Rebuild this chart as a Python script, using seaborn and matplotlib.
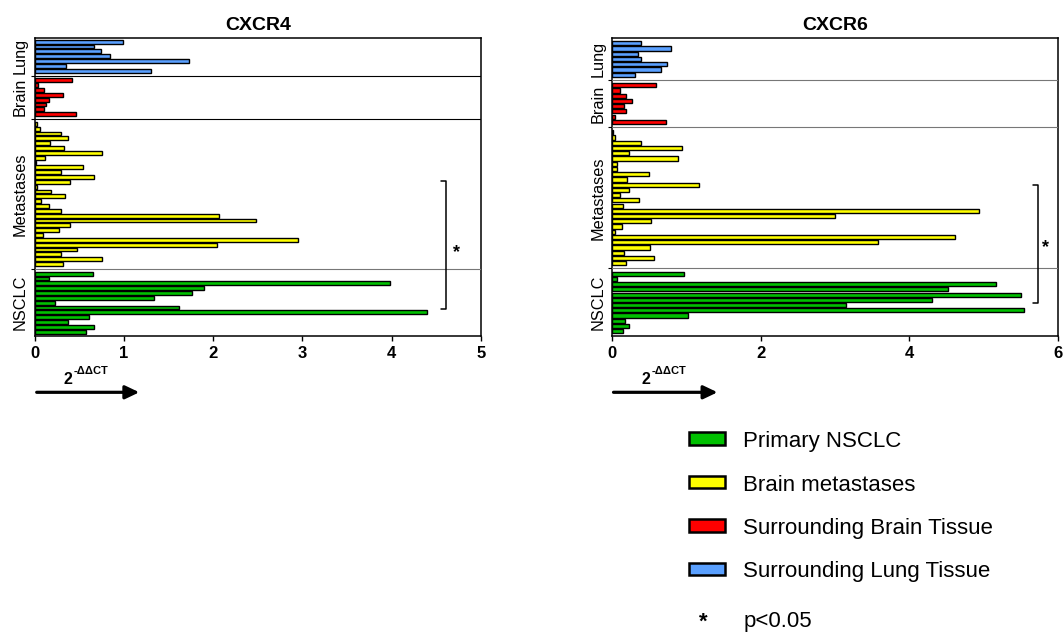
import numpy as np
import pandas as pd
import matplotlib
matplotlib.use("Agg")
import matplotlib.pyplot as plt
import seaborn as sns
from matplotlib.patches import Rectangle, FancyArrowPatch

# ---------------- data ----------------
groups = ["Surrounding Lung Tissue", "Surrounding Brain Tissue", "Brain metastases", "Primary NSCLC"]
section_labels = ["Lung", "Brain", "Metastases", "NSCLC"]
legend_order = ["Primary NSCLC", "Brain metastases", "Surrounding Brain Tissue", "Surrounding Lung Tissue"]
palette = {"Primary NSCLC": "#00c000", "Brain metastases": "#ffff00",
           "Surrounding Brain Tissue": "#ff0000", "Surrounding Lung Tissue": "#5aa0ff"}

cxcr4_lung = [0.99, 0.66, 0.74, 0.84, 1.73, 0.35, 1.30]
cxcr4_brain = [0.42, 0.04, 0.10, 0.32, 0.16, 0.13, 0.10, 0.46]
cxcr4_met = [0.03, 0.06, 0.29, 0.37, 0.17, 0.33, 0.75, 0.11, 0.02, 0.54,
             0.29, 0.66, 0.40, 0.03, 0.18, 0.34, 0.07, 0.16, 0.29, 2.07,
             2.48, 0.40, 0.27, 0.09, 2.95, 2.04, 0.47, 0.30, 0.75, 0.32]
cxcr4_nsclc = [0.65, 0.16, 3.98, 1.90, 1.76, 1.34, 0.23, 1.62, 4.40, 0.61, 0.37, 0.66, 0.57]

cxcr6_lung = [0.39, 0.79, 0.34, 0.39, 0.73, 0.65, 0.31]
cxcr6_brain = [0.59, 0.10, 0.19, 0.26, 0.16, 0.19, 0.04, 0.72]
cxcr6_met = [0.01, 0.04, 0.39, 0.94, 0.23, 0.88, 0.07, 0.07, 0.49, 0.20,
             1.17, 0.22, 0.10, 0.36, 0.15, 4.94, 3.00, 0.52, 0.13, 0.04,
             4.62, 3.58, 0.51, 0.16, 0.56, 0.18]
cxcr6_nsclc = [0.97, 0.07, 5.17, 4.52, 5.50, 4.30, 3.15, 5.54, 1.02, 0.17, 0.23, 0.14]

cxcr4_ticks = [0, 1, 2, 3, 4, 5]
cxcr6_ticks = [0, 2, 4, 6]

# ---------------- style ----------------
sns.set_theme(style="ticks")
plt.rcParams["font.family"] = ["Liberation Sans", "DejaVu Sans"]
plt.rcParams["axes.linewidth"] = 1.1
for key in ["text.color", "axes.labelcolor", "xtick.color", "ytick.color", "axes.edgecolor"]:
    plt.rcParams[key] = "black"

W, H = 1063, 632
fig = plt.figure(figsize=(W / 100, H / 100), dpi=100)


def fx(px):
    return px / W


def fy(py):
    return 1 - py / H


def build(panel, series):
    rows, order, gaps, centers = [], [], [], []
    pos = 0
    for gi, (grp, vals) in enumerate(zip(groups, series)):
        if gi > 0:
            order.append(f"{panel}_gap{gi}")
            gaps.append(pos)
            pos += 1
        start = pos
        for k, v in enumerate(vals):
            sid = f"{panel}_{gi}_{k}"
            order.append(sid)
            rows.append(dict(sample=sid, value=v, group=grp))
            pos += 1
        centers.append((start + pos - 1) / 2)
    return pd.DataFrame(rows), order, gaps, centers


panels = [
    dict(name="CXCR4", series=[cxcr4_lung, cxcr4_brain, cxcr4_met, cxcr4_nsclc],
         left=34.7, right=481.0, xmax=5, ticks=cxcr4_ticks, margins=(0.83, 0.89),
         line_colors=["black", "black", "#777777"],
         bracket=dict(x0=4.555, x1=4.608, ytop_px=181, ybot_px=309.3, xs=4.72, ys_px=256.5),
         first_px=41.7, step_px=4.83, two_px=63, arrow=(36.7, 139.3)),
    dict(name="CXCR6", series=[cxcr6_lung, cxcr6_brain, cxcr6_met, cxcr6_nsclc],
         left=612.3, right=1058.0, xmax=6, ticks=cxcr6_ticks, margins=(1.07, 0.9),
         line_colors=["#777777", "#777777", "#777777"],
         bracket=dict(x0=5.666, x1=5.733, ytop_px=185, ybot_px=302.7, xs=5.83, ys_px=252.5),
         first_px=43.3, step_px=5.236, two_px=641, arrow=(613.5, 717.5)),
]

top_px, bot_px = 37.7, 336.0

for p in panels:
    ax = fig.add_axes([fx(p["left"]), fy(bot_px), (p["right"] - p["left"]) / W, (bot_px - top_px) / H])
    df, order, gaps, centers = build(p["name"], p["series"])
    sns.barplot(data=df, x="value", y="sample", hue="group", order=order, hue_order=groups,
                palette=palette, saturation=1, dodge=False, width=0.8, edgecolor="black",
                linewidth=1.0, errorbar=None, legend=False, orient="h", ax=ax)
    n = len(order)
    mt, mb = p["margins"]
    ax.set_ylim(n - 1 + mb, -mt)
    ax.set_xlim(0, p["xmax"])
    ax.set_xlabel("")
    ax.set_ylabel("")

    # section separators
    for g, c in zip(gaps, p["line_colors"]):
        ax.axhline(g, color=c, lw=0.8, zorder=3)

    ax.set_yticks(centers)
    ax.set_yticklabels(section_labels, rotation=90, va="center", fontsize=11.7)
    ax.set_yticks(gaps, minor=True)
    ax.tick_params(axis="y", which="major", length=0, pad=5)
    ax.tick_params(axis="y", which="minor", length=3, width=0.8, direction="out")

    ax.set_xticks(p["ticks"])
    ax.set_xticklabels([str(t) for t in p["ticks"]], fontsize=12, fontweight="bold")
    ax.tick_params(axis="x", length=3.5, width=1.0, pad=4, direction="out")

    for s in ax.spines.values():
        s.set_visible(True)
        s.set_color("black")
        s.set_linewidth(1.1)

    ax.set_title(p["name"], fontsize=14, fontweight="bold", pad=5.5)

    # significance bracket
    b = p["bracket"]
    yt = (b["ytop_px"] - p["first_px"]) / p["step_px"]
    yb = (b["ybot_px"] - p["first_px"]) / p["step_px"]
    ax.plot([b["x0"], b["x1"], b["x1"], b["x0"]], [yt, yt, yb, yb], color="black", lw=1.1,
            clip_on=False, zorder=4)
    ys = (b["ys_px"] - p["first_px"]) / p["step_px"]
    ax.text(b["xs"], ys, "*", fontsize=13, fontweight="bold", ha="center", va="baseline")

    # x-axis label 2^-ΔΔCT and arrow
    fig.text(fx(p["two_px"]), fy(384), "2", fontsize=11.5, fontweight="bold", va="baseline", ha="left")
    fig.text(fx(p["two_px"] + 10.5), fy(373.5), "-ΔΔCT", fontsize=8, fontweight="bold",
             va="baseline", ha="left")
    a0, a1 = p["arrow"]
    fig.add_artist(FancyArrowPatch(
        (fx(a0), fy(392.3)), (fx(a1), fy(392.3)), transform=fig.transFigure,
        arrowstyle="-|>,head_length=0.42,head_width=0.2", mutation_scale=20,
        lw=2.3, color="black", shrinkA=0, shrinkB=0))

# ---------------- legend ----------------
for i, g in enumerate(legend_order):
    cy = 438.5 + i * 43.4
    fig.add_artist(Rectangle((fx(688.5), fy(cy + 6.2)), 36 / W, 12.4 / H, transform=fig.transFigure,
                             facecolor=palette[g], edgecolor="black", lw=1.8))
    fig.text(fx(743.3), fy(cy + 8.8), g, fontsize=16, va="baseline", ha="left")
fig.text(fx(703.7), fy(628.0), "*", fontsize=16, fontweight="bold", va="baseline", ha="center")
fig.text(fx(743.3), fy(627.3), "p<0.05", fontsize=16, va="baseline", ha="left")

fig.savefig("out.png", dpi=100)
